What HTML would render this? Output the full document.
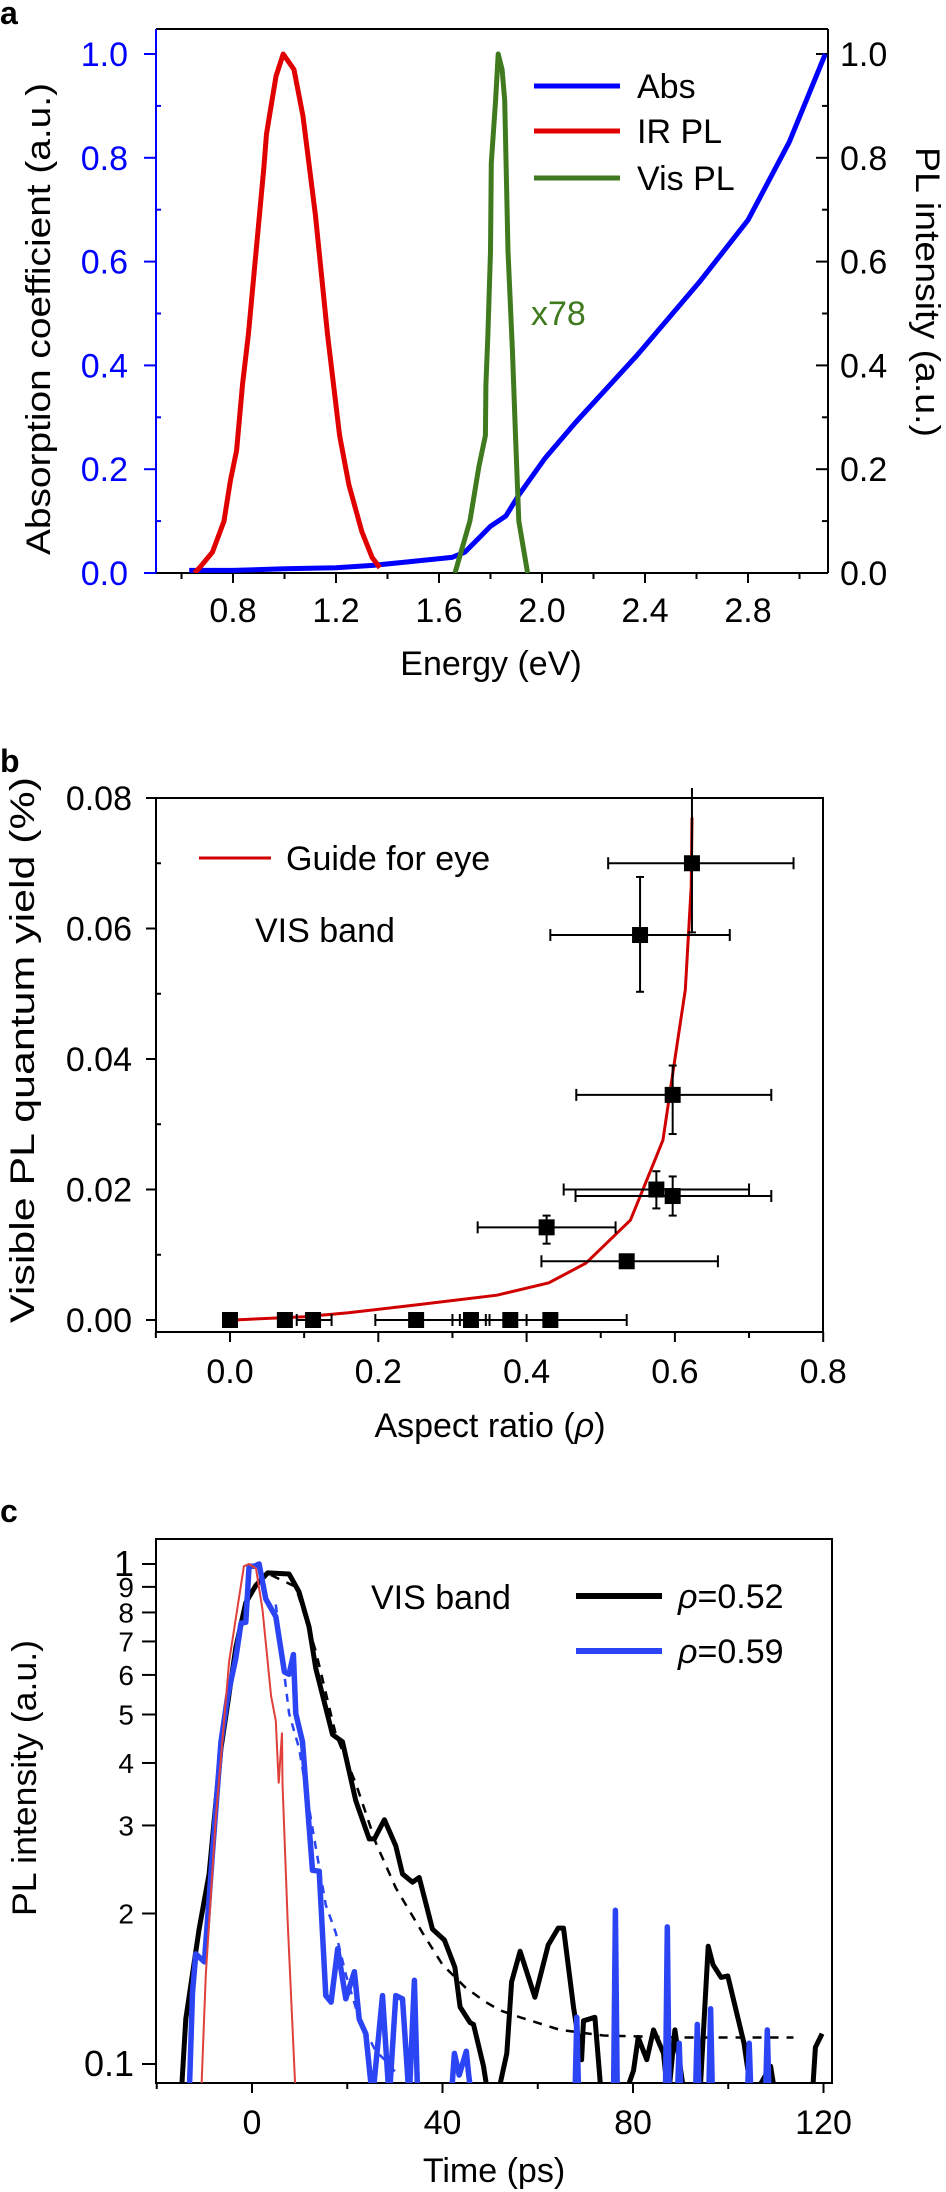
<!DOCTYPE html>
<html><head><meta charset="utf-8">
<style>
html,body{margin:0;padding:0;background:#fff;}
svg{display:block;}
text{font-family:"Liberation Sans Narrow","Liberation Sans",sans-serif;}
.reg{font-family:"Liberation Sans",sans-serif;}
</style></head>
<body>
<svg id="fig" width="946" height="2192" viewBox="0 0 946 2192" xmlns="http://www.w3.org/2000/svg">
<defs>
<clipPath id="clipA"><rect x="156" y="29" width="672" height="544"/></clipPath>
<clipPath id="clipB"><rect x="156" y="798" width="667" height="534"/></clipPath>
<clipPath id="clipC"><rect x="156" y="1539" width="676" height="544"/></clipPath>
</defs>
<!-- panel letters -->
<text x="0" y="24" font-size="32" font-weight="bold" class="reg">a</text>
<text x="0" y="772" font-size="32" font-weight="bold" class="reg">b</text>
<text x="0" y="1522" font-size="32" font-weight="bold" class="reg">c</text>

<!-- Panel A frame -->
<g>
<line x1="156" y1="29" x2="828" y2="29" stroke="#000" stroke-width="2"/>
<line x1="828" y1="29" x2="828" y2="573" stroke="#000" stroke-width="2"/>
<line x1="156" y1="573" x2="828" y2="573" stroke="#000" stroke-width="2"/>
<line x1="156" y1="29" x2="156" y2="573" stroke="#0000ff" stroke-width="2"/>
<g id="aTicks"></g>
<g id="aSeries" clip-path="url(#clipA)"></g>
<text x="491" y="675" font-size="34" text-anchor="middle">Energy (eV)</text>
<text transform="translate(50,319) rotate(-90)" font-size="34" text-anchor="middle" class="reg" textLength="472" lengthAdjust="spacingAndGlyphs">Absorption coefficient (a.u.)</text>
<text transform="translate(916,292) rotate(90)" font-size="34" text-anchor="middle" class="reg" textLength="290" lengthAdjust="spacingAndGlyphs">PL intensity (a.u.)</text>
<line x1="534" y1="86" x2="620" y2="86" stroke="#0000ff" stroke-width="5"/>
<text x="637" y="98" font-size="34">Abs</text>
<line x1="534" y1="131" x2="620" y2="131" stroke="#e00000" stroke-width="5"/>
<text x="637" y="143" font-size="34">IR PL</text>
<line x1="534" y1="178" x2="620" y2="178" stroke="#3f7a1e" stroke-width="5"/>
<text x="637" y="190" font-size="34">Vis PL</text>
<text x="531" y="325" font-size="34" fill="#3f7a1e">x78</text>
</g>

<!-- Panel B -->
<g>
<rect x="156" y="798" width="667" height="534" fill="none" stroke="#000" stroke-width="2"/>
<g id="bTicks"></g>
<g id="bSeries"></g>
<text x="490" y="1437" font-size="34" text-anchor="middle">Aspect ratio (<tspan font-style="italic" class="reg">ρ</tspan>)</text>
<text transform="translate(34,1050) rotate(-90)" font-size="34" text-anchor="middle" class="reg" textLength="546" lengthAdjust="spacingAndGlyphs">Visible PL quantum yield (%)</text>
<line x1="199" y1="858" x2="271" y2="858" stroke="#d00000" stroke-width="3"/>
<text x="286" y="870" font-size="34">Guide for eye</text>
<text x="255" y="942" font-size="34">VIS band</text>
</g>

<!-- Panel C -->
<g>
<rect x="156" y="1539" width="676" height="544" fill="none" stroke="#000" stroke-width="2"/>
<g id="cTicks"></g>
<g id="cSeries" clip-path="url(#clipC)"></g>
<text x="494" y="2182" font-size="34" text-anchor="middle">Time (ps)</text>
<text transform="translate(36,1778) rotate(-90)" font-size="34" text-anchor="middle" class="reg" textLength="276" lengthAdjust="spacingAndGlyphs">PL intensity (a.u.)</text>
<text x="371" y="1609" font-size="34" class="reg">VIS band</text>
<line x1="576" y1="1596" x2="662" y2="1596" stroke="#000" stroke-width="6"/>
<text x="678" y="1608" font-size="34"><tspan font-style="italic" class="reg">ρ</tspan>=0.52</text>
<line x1="576" y1="1651" x2="662" y2="1651" stroke="#2b45f5" stroke-width="6"/>
<text x="678" y="1663" font-size="34"><tspan font-style="italic" class="reg">ρ</tspan>=0.59</text>
</g>
</svg>
<script>
// ---------- Panel A data ----------
const absE = [0.63,0.8,1.0,1.2,1.35,1.45,1.55,1.65,1.7,1.76,1.8,1.86,1.91,2.01,2.13,2.37,2.61,2.8,2.96,3.1];
const absV = [0.005,0.005,0.008,0.01,0.015,0.02,0.025,0.03,0.04,0.07,0.09,0.11,0.15,0.22,0.29,0.42,0.56,0.68,0.83,1.0];
const irE = [0.65,0.67,0.72,0.765,0.79,0.814,0.837,0.86,0.884,0.92,0.93,0.967,0.995,1.037,1.072,1.12,1.167,1.214,1.25,1.3,1.34,1.37];
const irV = [0.0,0.01,0.04,0.10,0.178,0.236,0.363,0.46,0.589,0.782,0.846,0.957,1.0,0.97,0.88,0.69,0.46,0.265,0.17,0.08,0.03,0.01];
const visE = [1.662,1.72,1.755,1.78,1.782,1.79,1.80,1.803,1.82,1.83,1.845,1.855,1.868,1.885,1.897,1.91,1.944];
const visV = [0.0,0.10,0.205,0.265,0.363,0.46,0.62,0.79,0.911,1.0,0.97,0.911,0.62,0.43,0.265,0.10,0.0];
const aXTicks = [0.8,1.2,1.6,2.0,2.4,2.8];
const aYTicks = [0.0,0.2,0.4,0.6,0.8,1.0];

// ---------- Panel B data ----------
const bRho  = [0.623,0.553,0.597,0.575,0.597,0.427,0.535,0.0,0.074,0.112,0.251,0.325,0.378,0.432];
const bQY   = [0.070,0.059,0.0345,0.020,0.019,0.0142,0.009,0,0,0,0,0,0,0];
const bXLo  = [0.51,0.432,0.467,0.45,0.466,0.334,0.42,0.0,0.07,0.09,0.196,0.30,0.35,0.33];
const bXHi  = [0.76,0.674,0.73,0.70,0.73,0.52,0.658,0.0,0.08,0.137,0.31,0.345,0.40,0.535];
const bYLo  = [0.0594,0.0503,0.0285,0.0171,0.016,0.0117,0.009,0,0,0,0,0,0,0];
const bYHi  = [0.09,0.0679,0.039,0.0228,0.022,0.016,0.009,0,0,0,0,0,0,0];
const guideRho = [0.005,0.1,0.16,0.25,0.36,0.43,0.48,0.54,0.573,0.584,0.60,0.614,0.622,0.623];
const guideQY  = [0.0,0.0005,0.0011,0.0023,0.0038,0.0057,0.0087,0.0153,0.0245,0.0276,0.04,0.0506,0.0664,0.077];
const bXTicks = [0.0,0.2,0.4,0.6,0.8];
const bYTicks = [0.00,0.02,0.04,0.06,0.08];

// ---------- Panel C data ----------
const blkT = [-14.9,-13.9,-11.1,-9.0,-6.5,-5.1,-3.4,-1.3,0.84,3.3,7.8,9.9,12.0,13.4,16.9,19.0,21.8,24.6,25.7,27.8,30.2,31.6,33.7,35.1,37.9,40.4,42.6,43.7,45.8,46.5,48.6,49.7,51.4,53.5,54.5,56.3,59.4,62.2,64.3,65.4,67.5,69.2,69.6,72.0,73.4,78.0,80.1,81.1,82.9,84.3,86.4,87.4,88.8,90.9,94.0,95.8,96.8,98.5,99.9,103.3,105.0,108.9,110.0,117.6,118.3,119.7];
const blkV = [0.085,0.123,0.186,0.240,0.428,0.526,0.68,0.837,0.907,0.96,0.955,0.879,0.748,0.618,0.456,0.441,0.336,0.282,0.282,0.308,0.273,0.240,0.231,0.236,0.186,0.177,0.156,0.130,0.121,0.120,0.099,0.085,0.085,0.105,0.146,0.168,0.136,0.173,0.187,0.187,0.130,0.102,0.122,0.124,0.085,0.085,0.097,0.113,0.102,0.117,0.105,0.085,0.117,0.085,0.085,0.172,0.158,0.149,0.150,0.110,0.085,0.099,0.085,0.085,0.108,0.115];
const bluT = [-13.2,-12.5,-11.8,-10.0,-8.3,-6.5,-5.1,-3.4,-2.3,-1.3,-0.6,0.5,1.5,2.9,5.0,6.8,7.8,8.7,9.2,10.6,12.7,14.1,15.5,16.6,18.0,19.7,21.5,22.5,23.9,25.3,27.4,28.8,30.2,31.6,33.0,34.1,34.8,41.8,42.5,43.5,45.0,45.5,46.2,67.8,68.2,68.6,75.9,76.3,76.7,86.8,87.2,87.6,89.3,89.7,90.1,93.1,93.5,93.9,95.9,96.3,96.7,104.0,104.4,104.8,107.8,108.2,108.6];
const bluV = [0.085,0.139,0.166,0.160,0.265,0.441,0.544,0.648,0.761,0.765,0.99,0.99,1.0,0.851,0.785,0.608,0.602,0.659,0.502,0.441,0.244,0.243,0.137,0.133,0.170,0.135,0.153,0.123,0.115,0.085,0.137,0.085,0.137,0.135,0.085,0.147,0.085,0.085,0.105,0.095,0.106,0.095,0.085,0.085,0.124,0.085,0.085,0.203,0.085,0.085,0.188,0.085,0.085,0.110,0.085,0.085,0.120,0.085,0.085,0.129,0.085,0.085,0.110,0.085,0.085,0.117,0.085];
const irfT = [-10.7,-9.7,-7.6,-4.8,-1.7,-0.6,0.84,2.2,4.0,5.0,5.6,6.3,6.4,7.5,9.2];
const irfV = [0.085,0.151,0.31,0.638,0.99,1.0,0.98,0.81,0.544,0.486,0.364,0.46,0.364,0.192,0.085];
const fitBlkT = [4.0,9.2,13.4,17.6,21.8,26.0,30.2,35.8,40.0,44.9,49.1,52.1,56.3,64.7,73.8,90.0,113.7];
const fitBlkV = [0.95,0.90,0.669,0.456,0.364,0.277,0.225,0.183,0.158,0.142,0.133,0.128,0.124,0.117,0.114,0.113,0.113];
const fitBluT = [5.0,7.8,9.9,12.7,15.5,17.6,19.7,22.5,26.0,28.8,30.5];
const fitBluV = [0.83,0.502,0.428,0.296,0.208,0.183,0.151,0.123,0.106,0.10,0.095];
const cXTicks = [0,40,80,120];
const cYTicks = [1,0.9,0.8,0.7,0.6,0.5,0.4,0.3,0.2,0.1];
const cYLabels = ["1","9","8","7","6","5","4","3","2","0.1"];

// ---------- scales ----------
function ax(e){return 233+(e-0.8)*257.5;}
function ay(v){return 573-v*519;}
function bx(r){return 230+r*741.5;}
function by(v){return 1320-v*6525;}
function cx(t){return 252+t*4.7625;}
function cy(v){return 1564-Math.log10(v)*500;}

const NS="http://www.w3.org/2000/svg";
function mk(tag,attrs,parent){const el=document.createElementNS(NS,tag);for(const k in attrs)el.setAttribute(k,attrs[k]);parent.appendChild(el);return el;}
function pathD(xs,ys,fx,fy){return xs.map((x,i)=>(i?'L':'M')+fx(x).toFixed(1)+' '+fy(ys[i]).toFixed(1)).join(' ');}

// ---- Panel A ----
const aT=document.getElementById('aTicks');
aXTicks.forEach(v=>{
  const l=mk('line',{x1:ax(v),y1:573,x2:ax(v),y2:583,stroke:'#000','stroke-width':2},aT);
  
  
  const t=mk('text',{x:ax(v),y:622,'font-size':34,'text-anchor':'middle'},aT);
  t.textContent=v.toFixed(1);
  
  
  const m=mk('line',{x1:ax(v+0.2),y1:573,x2:ax(v+0.2),y2:579,stroke:'#000','stroke-width':2},aT);
  
  
});
const mm=mk('line',{x1:ax(0.6),y1:573,x2:ax(0.6),y2:579,stroke:'#000','stroke-width':2},aT);


aYTicks.forEach(v=>{
  const l=mk('line',{x1:144,y1:ay(v),x2:156,y2:ay(v),stroke:'#0000ff','stroke-width':2},aT);
  
  
  const t=mk('text',{x:128,y:ay(v)+12,'font-size':34,'text-anchor':'end',fill:'#0000ff'},aT);
  t.textContent=v.toFixed(1);
  
  
  const r=mk('line',{x1:816,y1:ay(v),x2:828,y2:ay(v),stroke:'#000','stroke-width':2},aT);
  
  
  const rt=mk('text',{x:840,y:ay(v)+12,'font-size':34},aT);
  rt.textContent=v.toFixed(1);
  
  
  if(v<1){
    const ml=mk('line',{x1:156,y1:ay(v+0.1),x2:161,y2:ay(v+0.1),stroke:'#0000ff','stroke-width':2},aT);
    
    
    const mr=mk('line',{x1:822,y1:ay(v+0.1),x2:828,y2:ay(v+0.1),stroke:'#000','stroke-width':2},aT);
    
    
  }
});
const aS=document.getElementById('aSeries');
const pAbs=mk('path',{d:pathD(absE,absV,ax,ay),fill:'none',stroke:'#0000ff','stroke-width':5,'stroke-linejoin':'round'},aS);


const pIr=mk('path',{d:pathD(irE,irV,ax,ay),fill:'none',stroke:'#e00000','stroke-width':5,'stroke-linejoin':'round'},aS);


const pVis=mk('path',{d:pathD(visE,visV,ax,ay),fill:'none',stroke:'#3f7a1e','stroke-width':5,'stroke-linejoin':'round'},aS);



// ---- Panel B ----
const bT=document.getElementById('bTicks');
bXTicks.forEach(v=>{
  const l=mk('line',{x1:bx(v),y1:1332,x2:bx(v),y2:1342,stroke:'#000','stroke-width':2},bT);
  
  
  const t=mk('text',{x:bx(v),y:1383,'font-size':34,'text-anchor':'middle'},bT);
  t.textContent=v.toFixed(1);
  
  
  const m=mk('line',{x1:bx(v-0.1),y1:1332,x2:bx(v-0.1),y2:1338,stroke:'#000','stroke-width':2},bT);
  
  
});
bYTicks.forEach(v=>{
  const l=mk('line',{x1:146,y1:by(v),x2:156,y2:by(v),stroke:'#000','stroke-width':2},bT);
  
  
  const t=mk('text',{x:132,y:by(v)+12,'font-size':34,'text-anchor':'end'},bT);
  t.textContent=v.toFixed(2);
  
  
  if(v<0.08){
    const m=mk('line',{x1:156,y1:by(v+0.01),x2:161,y2:by(v+0.01),stroke:'#000','stroke-width':2},bT);
    
    
  }
});
const bS=document.getElementById('bSeries');
const gClip=mk('g',{'clip-path':'url(#clipB)'},bS);


const guide=mk('path',{d:pathD(guideRho,guideQY,bx,by),fill:'none',stroke:'#d00000','stroke-width':3},gClip);


bRho.forEach((r,i)=>{
  const eg=mk('g',{stroke:'#000','stroke-width':2,fill:'none'},bS);
  
  
  if(bXHi[i]>bXLo[i]){
    mk('line',{x1:bx(bXLo[i]),y1:by(bQY[i]),x2:bx(bXHi[i]),y2:by(bQY[i])},eg);
    mk('line',{x1:bx(bXLo[i]),y1:by(bQY[i])-6,x2:bx(bXLo[i]),y2:by(bQY[i])+6},eg);
    mk('line',{x1:bx(bXHi[i]),y1:by(bQY[i])-6,x2:bx(bXHi[i]),y2:by(bQY[i])+6},eg);
  }
  if(bYHi[i]>bYLo[i]){
    const yt=Math.max(by(bYHi[i]),788);
    mk('line',{x1:bx(r),y1:yt,x2:bx(r),y2:by(bYLo[i])},eg);
    if(bYHi[i]<0.08) mk('line',{x1:bx(r)-4,y1:by(bYHi[i]),x2:bx(r)+4,y2:by(bYHi[i])},eg);
    mk('line',{x1:bx(r)-4,y1:by(bYLo[i]),x2:bx(r)+4,y2:by(bYLo[i])},eg);
  }
  const s=mk('rect',{x:bx(r)-8,y:by(bQY[i])-8,width:16,height:16,fill:'#000'},bS);
  
  
});

// ---- Panel C ----
const cT=document.getElementById('cTicks');
cXTicks.forEach(v=>{
  const l=mk('line',{x1:cx(v),y1:2083,x2:cx(v),y2:2093,stroke:'#000','stroke-width':2},cT);
  
  
  const t=mk('text',{x:cx(v),y:2134,'font-size':34,'text-anchor':'middle'},cT);
  t.textContent=String(v);
  
  
  if(v<120){
    const m=mk('line',{x1:cx(v+20),y1:2083,x2:cx(v+20),y2:2089,stroke:'#000','stroke-width':2},cT);
    
    
  }
});
const m0=mk('line',{x1:cx(-20),y1:2083,x2:cx(-20),y2:2089,stroke:'#000','stroke-width':2},cT);


cYTicks.forEach((v,i)=>{
  const l=mk('line',{x1:142,y1:cy(v),x2:156,y2:cy(v),stroke:'#000','stroke-width':2},cT);
  
  
  const big=(i===0||i===cYTicks.length-1);
  const t=mk('text',{x:134,y:cy(v)+(big?12:10),'font-size':big?36:28,'text-anchor':'end','class':'reg'},cT);
  t.textContent=cYLabels[i];
  
  
});
const cS=document.getElementById('cSeries');
const pFitB=mk('path',{d:pathD(fitBluT,fitBluV,cx,cy),fill:'none',stroke:'#2b45f5','stroke-width':2.5,'stroke-dasharray':'8 7'},cS);


const pBlk=mk('path',{d:pathD(blkT,blkV,cx,cy),fill:'none',stroke:'#000','stroke-width':5,'stroke-linejoin':'round'},cS);


const pFitK=mk('path',{d:pathD(fitBlkT,fitBlkV,cx,cy),fill:'none',stroke:'#000','stroke-width':2.5,'stroke-dasharray':'9 8'},cS);


const pBlu=mk('path',{d:pathD(bluT,bluV,cx,cy),fill:'none',stroke:'#2b45f5','stroke-width':5.5,'stroke-linejoin':'round'},cS);


const pIrf=mk('path',{d:pathD(irfT,irfV,cx,cy),fill:'none',stroke:'#e0403a','stroke-width':2},cS);


</script>
</body></html>
